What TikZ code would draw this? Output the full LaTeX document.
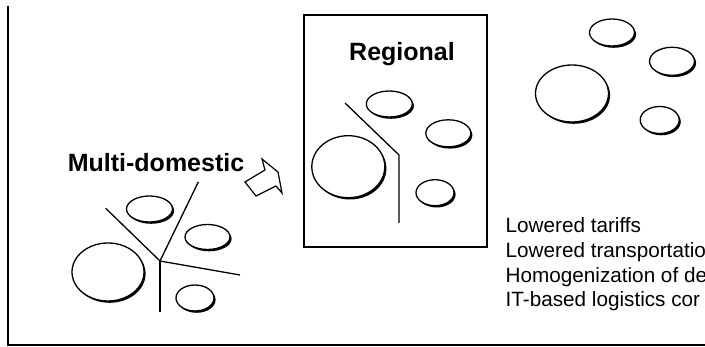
\documentclass[tikz,border=0pt]{standalone}
\usepackage{fontspec}
\setmainfont{Liberation Sans}
\usetikzlibrary{shapes.geometric,shadows}
\tikzset{
  disc/.style={ellipse, draw, line width=1.3pt, fill=white, inner sep=0pt,
    drop shadow={shadow xshift=1.6pt, shadow yshift=-1.8pt, opacity=1, fill=black}},
  title/.style={font=\bfseries\fontsize{25}{25}\selectfont, inner sep=0pt, anchor=base},
  factor/.style={font=\fontsize{20.7}{20.7}\selectfont, inner sep=0pt, anchor=base west},
  divider/.style={line width=1.3pt},
  frame/.style={line width=2pt},
}
\begin{document}
\begin{tikzpicture}[x=1pt,y=-1pt]
\useasboundingbox (0,0) rectangle (705,347);
% outer frame
\coordinate (ftop) at (8,6);
\coordinate (fcorner) at (8,345);
\coordinate (fright) at (706,345);
\draw[frame] (ftop) -- (fcorner) -- (fright);

% ---------- Multi-domestic ----------
\node[title] (multi) at (156,172) {Multi-domestic};
\coordinate (mj) at (160,261);
\coordinate (ma) at (105.7,208.3);
\coordinate (mb) at (198.3,182);
\coordinate (mc) at (240,275);
\coordinate (md) at (160,312);
\draw[divider] (ma) -- (mj) -- (mb);
\draw[divider] (mj) -- (mc);
\draw[divider] (mj) -- (md);
\node[disc, minimum width=72pt, minimum height=58pt] (mbig) at (108,272) {};
\node[disc, minimum width=46pt, minimum height=26pt] (mtop) at (149.5,209) {};
\node[disc, minimum width=45pt, minimum height=25pt] (mright) at (207.5,237) {};
\node[disc, minimum width=38pt, minimum height=26pt] (msmall) at (195,298) {};

% ---------- block arrow ----------
\draw[line width=1.2pt, line join=miter, fill=white]
  (245,182) -- (265,170) -- (262,159) -- (278,172) -- (282,193) -- (276,186) -- (256,196) -- cycle;

% ---------- Regional ----------
\node[draw, line width=1.7pt, minimum width=183pt, minimum height=232pt, inner sep=0pt] (regbox) at (395.5,131) {};
\node[title] (regional) at (402,61) {Regional};
\coordinate (ra) at (345,103);
\coordinate (rb) at (399,155);
\coordinate (rc) at (399,223);
\draw[divider] (ra) -- (rb) -- (rc);
\node[disc, minimum width=73pt, minimum height=62pt] (rbig) at (348.3,166.7) {};
\node[disc, minimum width=46pt, minimum height=26pt] (rtop) at (389.3,104) {};
\node[disc, minimum width=45pt, minimum height=27pt] (rright) at (448.3,133.3) {};
\node[disc, minimum width=38pt, minimum height=26pt] (rsmall) at (435,192.7) {};

% ---------- Global (no borders) ----------
\node[disc, minimum width=73pt, minimum height=57pt] (gbig) at (572,93.5) {};
\node[disc, minimum width=45pt, minimum height=27pt] (gtop) at (612,32.5) {};
\node[disc, minimum width=45pt, minimum height=28pt] (gright) at (672,61.3) {};
\node[disc, minimum width=39pt, minimum height=27pt] (gsmall) at (659.7,120) {};

% ---------- factors ----------
\node[factor] (f1) at (505.5,232.5) {Lowered tariffs};
\node[factor] (f2) at (505.5,257.3) {Lowered transportatio};
\node[factor] (f3) at (505.5,282.1) {Homogenization of de};
\node[factor] (f4) at (505.5,306.9) {IT-based logistics cor};
\end{tikzpicture}
\end{document}
